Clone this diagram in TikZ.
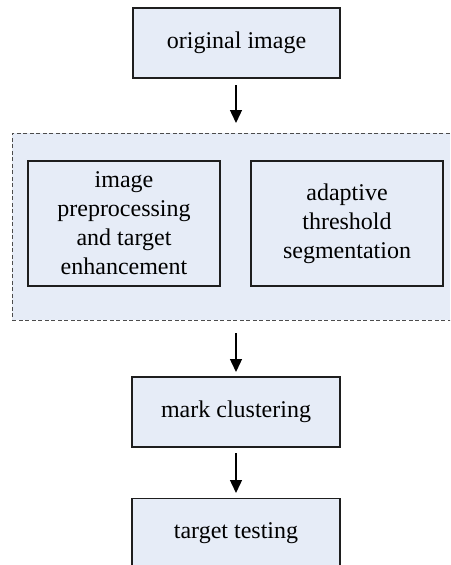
\documentclass[tikz,border=0pt]{standalone}
\usepackage{fontspec}
\setmainfont{Liberation Serif}
\usetikzlibrary{arrows.meta}
\definecolor{boxfill}{RGB}{230,236,247}
\definecolor{boxline}{RGB}{30,30,30}
\begin{document}
\begin{tikzpicture}[x=1pt,y=-1pt,
  stepbox/.style={draw=boxline, line width=1.3pt, fill=boxfill, inner sep=0pt, align=center,
     font=\fontsize{24}{29}\selectfont},
  flow/.style={-{Triangle[length=13pt,width=12pt]}, line width=1.4pt, black},
  groupbox/.style={draw=black!70, dashed, dash pattern=on 4pt off 2.5pt, line width=0.8pt, fill=boxfill}]
\useasboundingbox (0,0) rectangle (450,565);
\clip (0,0) rectangle (450,565);
\node[groupbox, minimum width=460pt, minimum height=187pt, anchor=north west] (grp) at (12,133) {};
\node[stepbox, minimum width=207pt, minimum height=70pt] (orig) at (236.5,43) {original image};
\node[stepbox, minimum width=192pt, minimum height=125pt] (pre) at (124,223.5) {image\\preprocessing\\and target\\enhancement};
\node[stepbox, minimum width=192pt, minimum height=125pt] (seg) at (347,223.5) {adaptive\\threshold\\segmentation};
\node[stepbox, minimum width=208pt, minimum height=70pt] (mark) at (236,412) {mark clustering};
\node[stepbox, minimum width=208pt, minimum height=110pt, anchor=north] (test) at (236,498) {};
\node[font=\fontsize{24}{29}\selectfont] (testlbl) at (236,533) {target testing};
\coordinate (a1s) at (236,85);
\coordinate (a1e) at (236,123);
\coordinate (a2s) at (236,333);
\coordinate (a2e) at (236,372);
\coordinate (a3s) at (236,453);
\coordinate (a3e) at (236,493);
\draw[flow] (a1s) -- (a1e);
\draw[flow] (a2s) -- (a2e);
\draw[flow] (a3s) -- (a3e);
\end{tikzpicture}
\end{document}
